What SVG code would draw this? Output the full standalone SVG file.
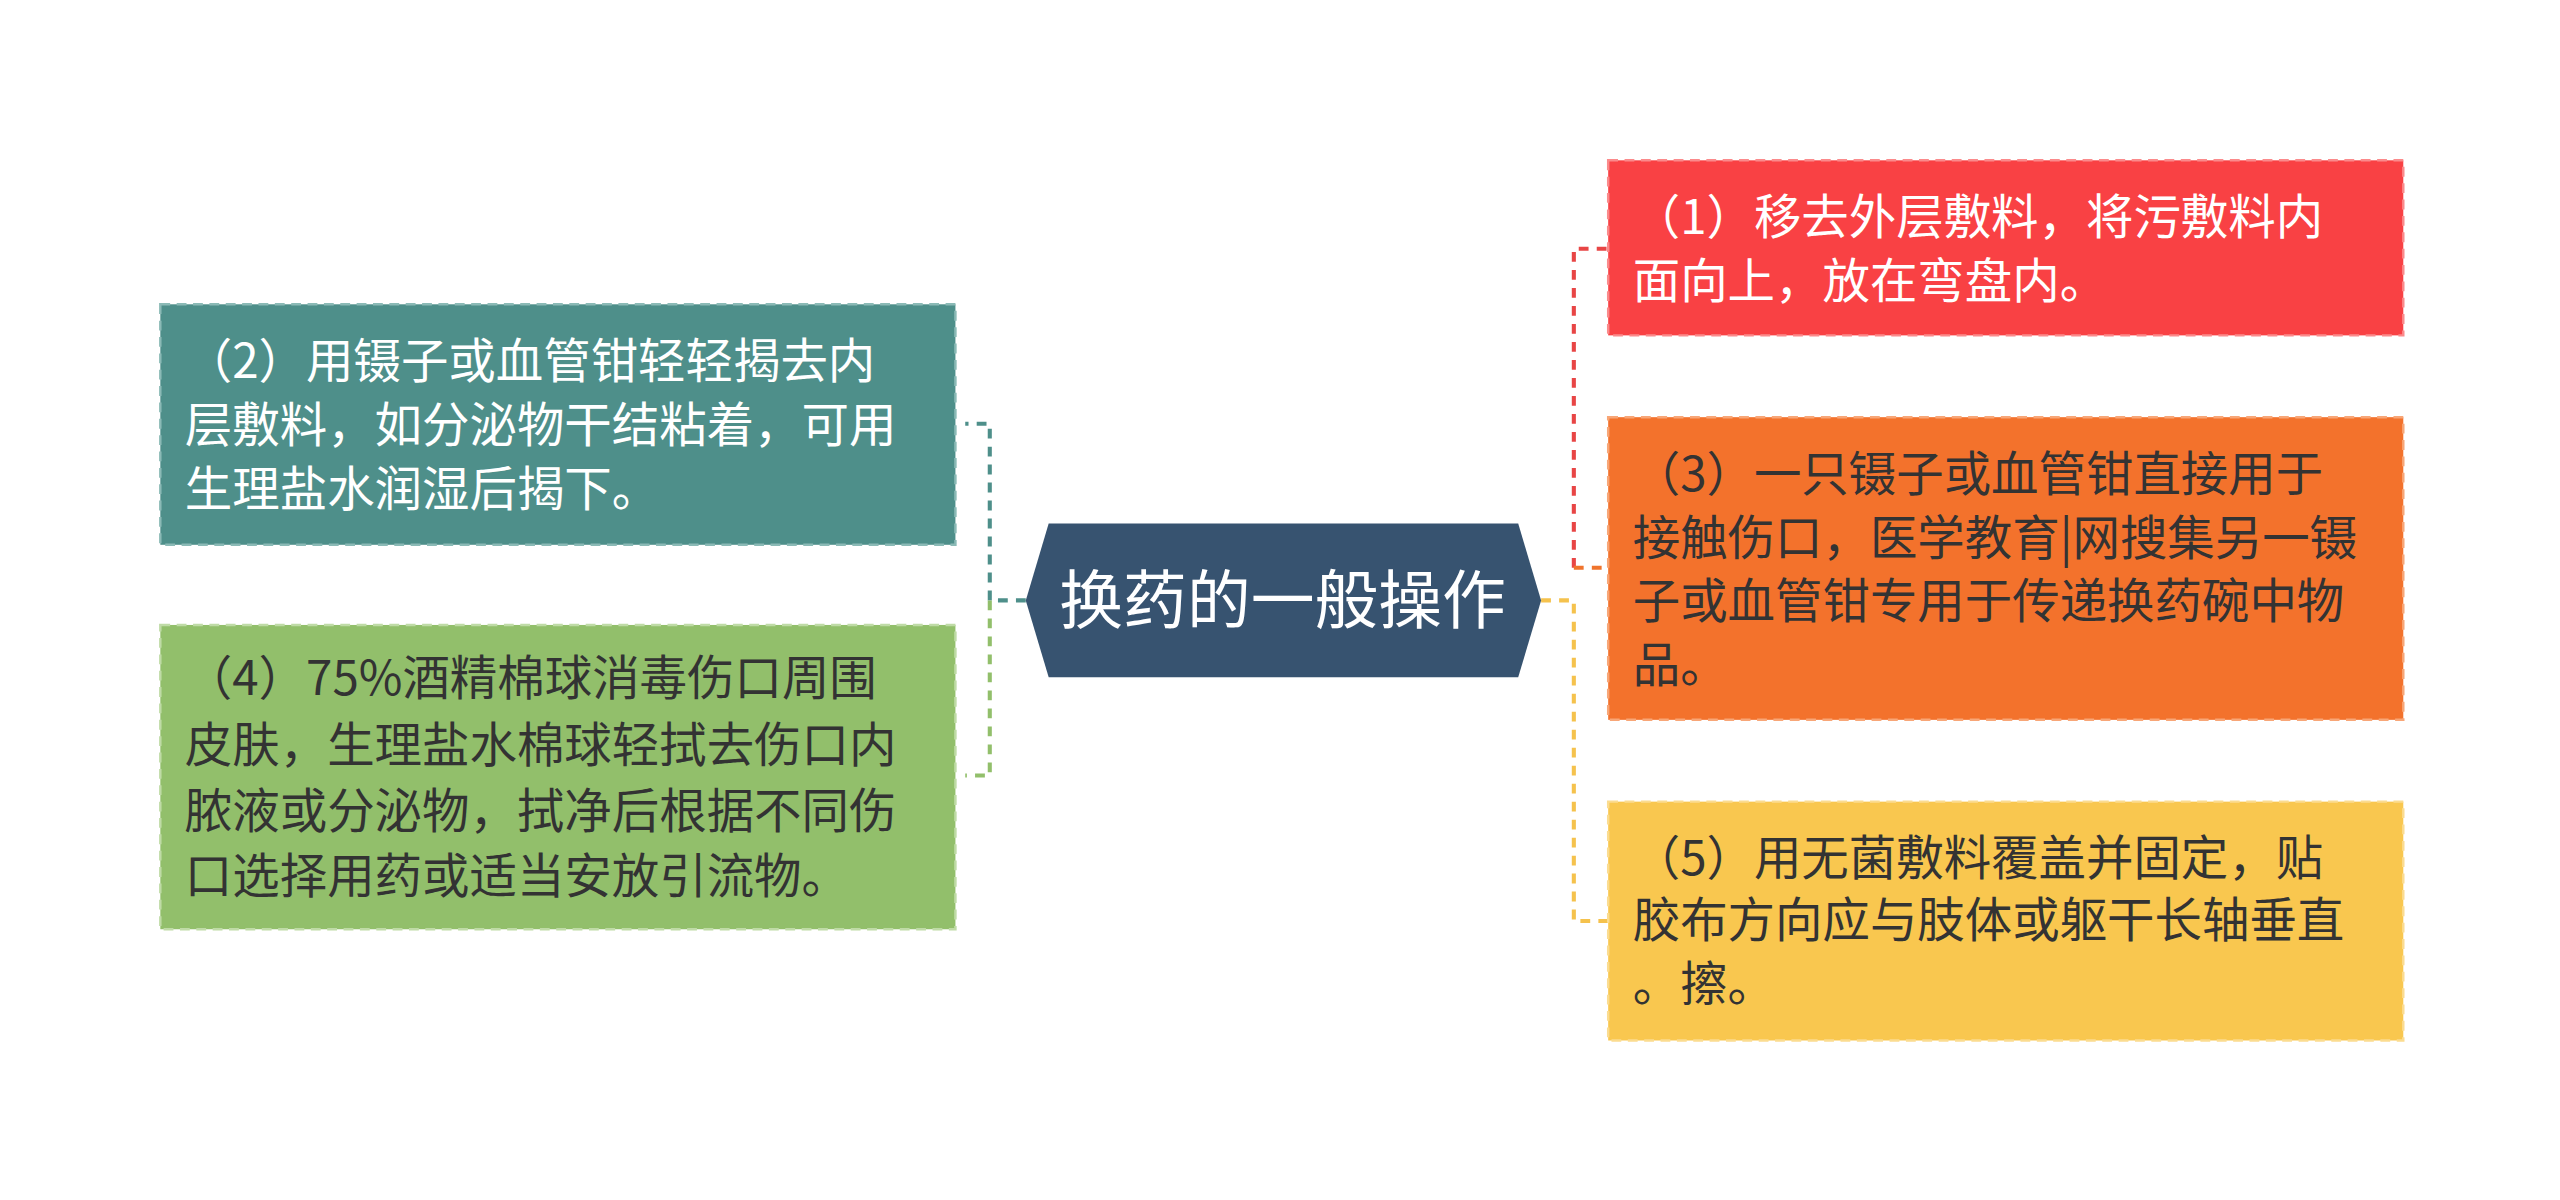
<svg xmlns="http://www.w3.org/2000/svg" width="2560" height="1200" viewBox="0 0 2560 1200">
<style>
.t{font-family:"Noto Sans CJK SC","Noto Sans",sans-serif;font-size:29px}
.w{fill:#ffffff}.d{fill:#333333}
.b{stroke-width:1.5;stroke-dasharray:6 4}
.c{fill:none;stroke-width:2.5;stroke-dasharray:6 5}
</style>
<rect width="2560" height="1200" fill="#ffffff"/>
<g transform="scale(1.636)">
<g id="connectors">
<path class="c" stroke="#4e8f8a" d="M627 367H605V259H590"/>
<path class="c" stroke="#92bf6b" d="M605 367V474H590"/>
<path class="c" stroke="#e84545" d="M962 347V152H983"/>
<path class="c" stroke="#f0742d" d="M962 347H983"/>
<path class="c" stroke="#f5c24d" d="M942 367H962V563H983"/>
</g>
<g id="root">
<polygon points="627,367 641,320 928,320 942,367 928,414 641,414" fill="#375370"/>
<text x="784" y="381" text-anchor="middle" class="t w" style="font-size:39px">换药的一般操作</text>
</g>
<g id="n2">
<rect x="98" y="186" width="486" height="147" fill="#4e8f8a" stroke="#8bbab6" class="b"/>
<text class="t w"><tspan x="113" y="231">（2）用镊子或血管钳轻轻揭去内</tspan><tspan x="113" y="270">层敷料，如分泌物干结粘着，可用</tspan><tspan x="113" y="309">生理盐水润湿后揭下。</tspan></text>
</g>
<g id="n4">
<rect x="98" y="382" width="486" height="186" fill="#92bf6b" stroke="#bfdba6" class="b"/>
<text class="t d"><tspan x="113" y="425">（4）75%酒精棉球消毒伤口周围</tspan><tspan x="113" y="466">皮肤，生理盐水棉球轻拭去伤口内</tspan><tspan x="113" y="506">脓液或分泌物，拭净后根据不同伤</tspan><tspan x="113" y="546">口选择用药或适当安放引流物。</tspan></text>
</g>
<g id="n1">
<rect x="983" y="98" width="486" height="107" fill="#f94144" stroke="#fb8a8b" class="b"/>
<text class="t w"><tspan x="998" y="143">（1）移去外层敷料，将污敷料内</tspan><tspan x="998" y="182">面向上，放在弯盘内。</tspan></text>
</g>
<g id="n3">
<rect x="983" y="255" width="486" height="185" fill="#f3722c" stroke="#f8a677" class="b"/>
<text class="t d"><tspan x="998" y="300">（3）一只镊子或血管钳直接用于</tspan><tspan x="998" y="339">接触伤口，医学教育|网搜集另一镊</tspan><tspan x="998" y="378">子或血管钳专用于传递换药碗中物</tspan><tspan x="998" y="417">品。</tspan></text>
</g>
<g id="n5">
<rect x="983" y="490" width="486" height="146" fill="#f9c74f" stroke="#fbdc90" class="b"/>
<text class="t d"><tspan x="998" y="535">（5）用无菌敷料覆盖并固定，贴</tspan><tspan x="998" y="573">胶布方向应与肢体或躯干长轴垂直</tspan><tspan x="998" y="612">。擦。</tspan></text>
</g>
</g>
</svg>
